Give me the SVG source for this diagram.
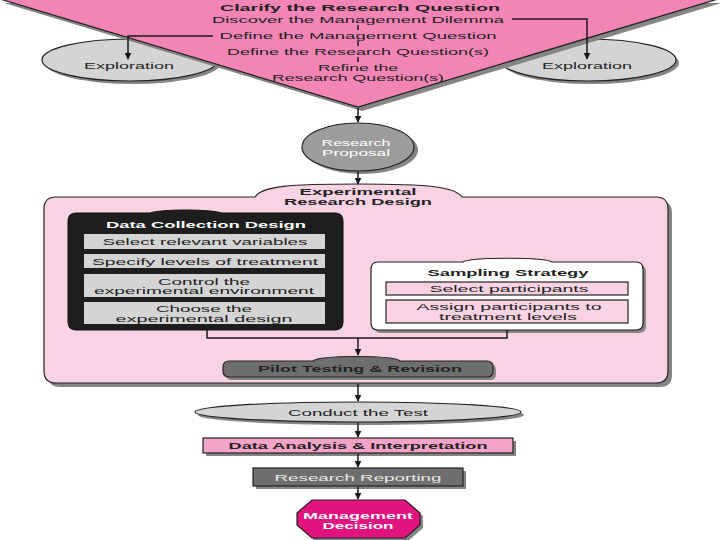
<svg xmlns="http://www.w3.org/2000/svg" width="720" height="540" viewBox="0 0 720 540">
<defs>
<marker id="ah" viewBox="0 0 10 10" refX="9" refY="5" markerWidth="7" markerHeight="7" markerUnits="userSpaceOnUse" orient="auto">
<path d="M0,0 L10,5 L0,10 Z" fill="#1a1a1a"/>
</marker>
<style>
text{font-family:"Liberation Sans",Arial,sans-serif;font-size:9.5px;text-anchor:middle;fill:#222}
.b{font-weight:bold}
.w{fill:#fff}
.lt{fill:#e8e8e8}
.sm{font-size:9px}
.sh{fill:#858585;stroke:none}
.ln{stroke:#1a1a1a;stroke-width:1.5;fill:none}
.st{stroke:#222;stroke-width:1.2}
</style>
</defs>
<rect width="720" height="540" fill="#fff"/>

<g id="exploration-left">
<ellipse class="sh" cx="133" cy="63" rx="88" ry="21"/>
<ellipse class="st" cx="130" cy="60" rx="88" ry="21" fill="#d4d4d4"/>
<text x="129" y="69" textLength="90" lengthAdjust="spacingAndGlyphs">Exploration</text>
</g>
<g id="exploration-right">
<ellipse class="sh" cx="591" cy="63" rx="88" ry="21"/>
<ellipse class="st" cx="588" cy="60" rx="88" ry="21" fill="#d4d4d4"/>
<text x="587" y="69" textLength="90" lengthAdjust="spacingAndGlyphs">Exploration</text>
</g>

<g id="clarify">
<polygon class="sh" points="4,3 722,3 362,111"/>
<polygon class="st" points="0,-1 718,-1 358,107" fill="#f285b6"/>
<text class="b" x="360" y="11" textLength="280" lengthAdjust="spacingAndGlyphs">Clarify the Research Question</text>
<text x="358" y="23" textLength="292" lengthAdjust="spacingAndGlyphs">Discover the Management Dilemma</text>
<text x="358" y="39" textLength="277" lengthAdjust="spacingAndGlyphs">Define the Management Question</text>
<text x="358" y="55" textLength="262" lengthAdjust="spacingAndGlyphs">Define the Research Question(s)</text>
<text x="358" y="71" textLength="80" lengthAdjust="spacingAndGlyphs">Refine the</text>
<text x="358" y="81" textLength="172" lengthAdjust="spacingAndGlyphs">Research Question(s)</text>
</g>

<g id="proposal">
<ellipse class="sh" cx="362" cy="150" rx="56" ry="24"/>
<ellipse class="st" cx="358" cy="147" rx="56" ry="24" fill="#9c9c9c"/>
<text class="w sm" x="356" y="145.5" textLength="69" lengthAdjust="spacingAndGlyphs">Research</text>
<text class="w sm" x="356" y="156" textLength="68" lengthAdjust="spacingAndGlyphs">Proposal</text>
</g>

<g id="experimental-design">
<path class="sh" transform="translate(4,4)" d="M56,197 H255 C262,186 290,184 358,184 C430,184 455,187 462,197 H656 Q668,197 668,209 V371 Q668,383 656,383 H56 Q44,383 44,371 V209 Q44,197 56,197 Z"/>
<path class="st" fill="#f9d2e4" d="M56,197 H255 C262,186 290,184 358,184 C430,184 455,187 462,197 H656 Q668,197 668,209 V371 Q668,383 656,383 H56 Q44,383 44,371 V209 Q44,197 56,197 Z"/>
<text class="b" x="358" y="195" textLength="117" lengthAdjust="spacingAndGlyphs">Experimental</text>
<text class="b" x="358" y="205" textLength="148" lengthAdjust="spacingAndGlyphs">Research Design</text>
</g>

<g id="data-collection">
<path fill="#1e1e1e" stroke="#111" d="M76,213 H150 C160,209 210,209 222,213 H335 Q343,213 343,221 V322 Q343,330 335,330 H76 Q68,330 68,322 V221 Q68,213 76,213 Z"/>
<text class="b w" x="206" y="228" textLength="200" lengthAdjust="spacingAndGlyphs">Data Collection Design</text>
<rect x="84" y="234" width="241" height="15" fill="#d4d4d4"/>
<text x="205" y="245" textLength="205" lengthAdjust="spacingAndGlyphs">Select relevant variables</text>
<rect x="84" y="254" width="241" height="14" fill="#d4d4d4"/>
<text x="205" y="264.5" textLength="226" lengthAdjust="spacingAndGlyphs">Specify levels of treatment</text>
<rect x="84" y="274" width="241" height="23" fill="#d4d4d4"/>
<text x="204" y="284.5" textLength="92" lengthAdjust="spacingAndGlyphs">Control the</text>
<text x="204" y="294" textLength="220" lengthAdjust="spacingAndGlyphs">experimental environment</text>
<rect x="84" y="302" width="241" height="22" fill="#d4d4d4"/>
<text x="204" y="312" textLength="96" lengthAdjust="spacingAndGlyphs">Choose the</text>
<text x="204" y="321.5" textLength="177" lengthAdjust="spacingAndGlyphs">experimental design</text>
</g>

<g id="sampling">
<path class="sh" transform="translate(3,3)" d="M378,262 H463 C470,257 545,257 552,262 H636 Q643,262 643,269 V323 Q643,330 636,330 H378 Q371,330 371,323 V269 Q371,262 378,262 Z"/>
<path class="st" fill="#fff" d="M378,262 H463 C470,257 545,257 552,262 H636 Q643,262 643,269 V323 Q643,330 636,330 H378 Q371,330 371,323 V269 Q371,262 378,262 Z"/>
<text class="b" x="508" y="276" textLength="161" lengthAdjust="spacingAndGlyphs">Sampling Strategy</text>
<rect class="st" x="386" y="282" width="242" height="13" fill="#f9d2e4"/>
<text x="509" y="292" textLength="159" lengthAdjust="spacingAndGlyphs">Select participants</text>
<rect class="st" x="386" y="300" width="242" height="23" fill="#f9d2e4"/>
<text x="509" y="310" textLength="185" lengthAdjust="spacingAndGlyphs">Assign participants to</text>
<text x="508" y="319.5" textLength="138" lengthAdjust="spacingAndGlyphs">treatment levels</text>
</g>

<g id="pilot">
<path class="sh" transform="translate(3,3)" d="M229,361 H313 C320,355 393,355 400,361 H487 Q493,361 493,367 V371 Q493,377 487,377 H229 Q223,377 223,371 V367 Q223,361 229,361 Z"/>
<path class="st" fill="#6e6e6e" d="M229,361 H313 C320,355 393,355 400,361 H487 Q493,361 493,367 V371 Q493,377 487,377 H229 Q223,377 223,371 V367 Q223,361 229,361 Z"/>
<text class="b" x="360" y="372" textLength="204" lengthAdjust="spacingAndGlyphs" fill="#222">Pilot Testing &amp; Revision</text>
</g>

<g id="conduct">
<ellipse class="sh" cx="361" cy="415" rx="163" ry="10"/>
<ellipse class="st" cx="358" cy="412" rx="163" ry="10" fill="#d4d4d4"/>
<text x="358" y="415.5" textLength="140" lengthAdjust="spacingAndGlyphs">Conduct the Test</text>
</g>

<g id="analysis">
<rect class="sh" x="206" y="441" width="310" height="15"/>
<rect class="st" x="203" y="438" width="310" height="15" fill="#f3a3c8"/>
<text class="b" x="358" y="449" textLength="259" lengthAdjust="spacingAndGlyphs">Data Analysis &amp; Interpretation</text>
</g>

<g id="reporting">
<rect class="sh" x="256" y="471" width="210" height="18"/>
<rect class="st" x="253" y="468" width="210" height="18" fill="#6e6e6e"/>
<text class="lt" x="358" y="480.5" textLength="167" lengthAdjust="spacingAndGlyphs">Research Reporting</text>
</g>

<g id="decision">
<polygon class="sh" transform="translate(3,3)" points="312,500 405,500 420,513 420,525 405,538 312,538 297,525 297,513"/>
<polygon class="st" points="312,500 405,500 420,513 420,525 405,538 312,538 297,525 297,513" fill="#e2137e"/>
<text class="b w" x="358" y="518.5" textLength="110" lengthAdjust="spacingAndGlyphs">Management</text>
<text class="b w" x="358" y="529" textLength="71" lengthAdjust="spacingAndGlyphs">Decision</text>
</g>

<g id="connectors">
<polyline class="ln" points="213,36 128,36 128,59" marker-end="url(#ah)"/>
<polyline class="ln" points="512,19 587,19 587,59" marker-end="url(#ah)"/>
<line class="ln" x1="358" y1="25" x2="358" y2="30"/>
<line class="ln" x1="358" y1="41" x2="358" y2="46"/>
<line class="ln" x1="358" y1="57" x2="358" y2="62"/>
<line class="ln" x1="358" y1="108" x2="358" y2="122" marker-end="url(#ah)"/>
<line class="ln" x1="358" y1="171" x2="358" y2="184" marker-end="url(#ah)"/>
<polyline class="ln" points="207,330 207,338 507,338 507,330"/>
<line class="ln" x1="358" y1="338" x2="358" y2="355" marker-end="url(#ah)"/>
<line class="ln" x1="358" y1="384" x2="358" y2="401" marker-end="url(#ah)"/>
<line class="ln" x1="358" y1="423" x2="358" y2="437" marker-end="url(#ah)"/>
<line class="ln" x1="358" y1="454" x2="358" y2="467" marker-end="url(#ah)"/>
<line class="ln" x1="358" y1="487" x2="358" y2="499" marker-end="url(#ah)"/>
</g>
</svg>
